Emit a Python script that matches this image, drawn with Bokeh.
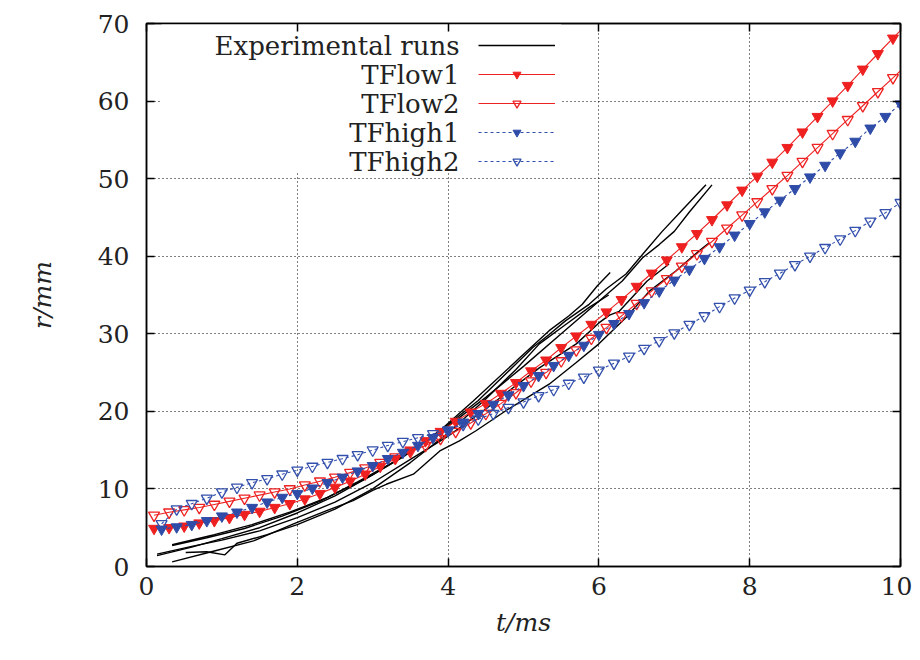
from bokeh.plotting import figure
from bokeh.models import Range1d, FixedTicker, LinearAxis, Legend, LegendItem, Label, BoxAnnotation
from bokeh.embed import file_html
from bokeh.resources import INLINE

# ---------------- data ----------------
x_ticks = [0, 2, 4, 6, 8, 10]
y_ticks = [0, 10, 20, 30, 40, 50, 60, 70]

# model time samples
t_low = [0.1, 0.3, 0.5, 0.7, 0.9, 1.1, 1.3, 1.5, 1.7, 1.9, 2.1, 2.3, 2.5, 2.7, 2.9,
         3.1, 3.3, 3.5, 3.7, 3.9, 4.1, 4.3, 4.5, 4.7, 4.9, 5.1, 5.3, 5.5, 5.7, 5.9,
         6.1, 6.3, 6.5, 6.7, 6.9, 7.1, 7.3, 7.5, 7.7, 7.9, 8.1, 8.3, 8.5, 8.7, 8.9,
         9.1, 9.3, 9.5, 9.7, 9.9, 10.1]
tflow1 = [4.9, 5.0, 5.2, 5.6, 5.9, 6.3, 6.7, 7.1, 7.6, 8.1, 8.7, 9.4, 10.2, 11.0, 11.9,
          12.9, 13.9, 15.0, 16.2, 17.4, 18.7, 19.9, 21.0, 22.3, 23.7, 25.2, 26.6, 28.2, 29.7, 31.2,
          32.8, 34.4, 36.1, 37.8, 39.5, 41.2, 42.9, 44.7, 46.6, 48.5, 50.3, 52.1, 54.0, 56.0, 58.0,
          60.0, 62.0, 64.1, 66.1, 68.1, 70.1]
tflow2 = [6.6, 7.0, 7.3, 7.6, 8.0, 8.4, 8.8, 9.2, 9.6, 10.0, 10.5, 11.0, 11.5, 12.1, 12.7,
          13.4, 14.1, 14.8, 15.6, 16.5, 17.4, 18.5, 19.7, 21.0, 22.4, 23.9, 25.0, 26.5, 27.9, 29.4,
          30.8, 32.3, 33.9, 35.5, 37.1, 38.7, 40.3, 41.9, 43.6, 45.3, 47.0, 48.7, 50.4, 52.2, 54.0,
          55.8, 57.6, 59.4, 61.2, 63.0, 64.8]

t_high = [0.2, 0.4, 0.6, 0.8, 1.0, 1.2, 1.4, 1.6, 1.8, 2.0, 2.2, 2.4, 2.6, 2.8, 3.0,
          3.2, 3.4, 3.6, 3.8, 4.0, 4.2, 4.4, 4.6, 4.8, 5.0, 5.2, 5.4, 5.6, 5.8, 6.0,
          6.2, 6.4, 6.6, 6.8, 7.0, 7.2, 7.4, 7.6, 7.8, 8.0, 8.2, 8.4, 8.6, 8.8, 9.0,
          9.2, 9.4, 9.6, 9.8, 10.0]
tfhigh1 = [4.8, 5.1, 5.4, 5.9, 6.5, 7.0, 7.6, 8.3, 8.9, 9.4, 10.1, 10.8, 11.5, 12.3, 13.0,
           13.9, 14.7, 15.6, 16.6, 17.5, 18.6, 19.7, 20.9, 22.1, 23.3, 24.6, 25.9, 27.2, 28.5, 29.9,
           31.3, 32.6, 34.0, 35.5, 36.9, 38.3, 39.7, 41.2, 42.7, 44.2, 45.7, 47.2, 48.7, 50.2, 51.7,
           53.3, 54.8, 56.5, 58.0, 59.6]
tfhigh2 = [5.5, 7.4, 8.1, 8.8, 9.6, 10.2, 10.8, 11.3, 11.9, 12.4, 12.9, 13.4, 13.9, 14.4, 15.0,
           15.6, 16.1, 16.6, 17.1, 17.6, 18.3, 19.0, 19.7, 20.5, 21.2, 22.0, 22.8, 23.6, 24.4, 25.3,
           26.2, 27.1, 28.1, 29.1, 30.1, 31.2, 32.3, 33.5, 34.6, 35.6, 36.7, 37.8, 38.9, 40.0, 41.1,
           42.2, 43.3, 44.5, 45.6, 46.9]

# experimental runs
run1_t = [0.34, 0.8, 1.3, 1.8, 2.3, 2.8, 3.3, 3.7, 4.0, 4.4, 4.9, 5.12, 5.34, 5.56, 5.87, 6.1, 6.36, 6.62, 6.84, 7.09, 7.42]
run1_r = [2.7, 3.7, 4.9, 6.5, 8.4, 10.9, 13.6, 16.1, 18.3, 21.4, 26.1, 28.2, 29.9, 31.7, 33.8, 35.8, 37.7, 40.7, 43.2, 45.8, 49.2]
run2_t = [0.14, 0.6, 1.0, 1.5, 2.0, 2.5, 3.0, 3.5, 4.0, 4.5, 5.0, 5.5, 6.0, 6.31, 6.58, 6.8, 7.0, 7.2, 7.5]
run2_r = [1.4, 2.5, 3.6, 5.0, 6.9, 9.1, 11.8, 14.8, 18.1, 21.8, 25.8, 30.0, 34.2, 36.8, 39.8, 41.5, 43.2, 45.7, 49.2]
run3_t = [0.34, 0.9, 1.4, 1.9, 2.4, 2.9, 3.4, 3.9, 4.33, 4.95, 5.34, 5.6, 5.78, 5.98, 6.15]
run3_r = [2.8, 4.1, 5.4, 7.0, 8.9, 11.3, 14.1, 17.6, 21.3, 26.9, 30.4, 32.3, 33.8, 36.2, 37.9]
run4_t = [0.52, 0.8, 1.04, 1.2, 1.6, 2.0, 2.5, 3.0, 3.5, 4.0, 4.5, 4.9, 5.21, 5.56, 5.87, 6.13]
run4_r = [1.8, 1.9, 1.5, 3.0, 4.1, 5.4, 7.4, 10.0, 13.4, 17.2, 21.6, 25.4, 28.7, 31.2, 33.4, 35.0]
run5_t = [0.14, 0.6, 1.0, 1.5, 2.0, 2.5, 3.0, 3.5, 4.0, 4.5, 4.8, 5.21, 5.7, 6.0, 6.14, 6.27, 6.64, 6.93]
run5_r = [1.6, 2.6, 3.4, 4.6, 6.3, 8.3, 10.8, 13.8, 16.8, 20.3, 22.6, 25.6, 28.7, 31.4, 32.4, 32.9, 36.8, 39.0]
run6_t = [0.34, 0.9, 1.42, 1.95, 2.39, 2.74, 3.0, 3.18, 3.54, 3.89, 4.15, 4.37, 4.8, 5.34, 5.7, 6.0, 6.36, 6.67, 7.02, 7.33, 7.46]
run6_r = [0.6, 2.0, 3.3, 5.5, 7.2, 8.5, 9.8, 10.6, 11.9, 14.9, 16.2, 17.5, 20.3, 23.5, 26.3, 28.7, 32.1, 35.5, 38.1, 40.7, 41.7]

legend_labels = ["Experimental runs", "TFlow1", "TFlow2", "TFhigh1", "TFhigh2"]

# ---------------- styling ----------------
FONT = "DejaVu Serif"
RED1 = "#ee2020"
RED2 = "#ef2222"
BLUE1 = "#2f4ca8"
BLUE2 = "#3350ac"

p = figure(width=912, height=652, output_backend="svg", toolbar_location=None,
           x_range=Range1d(0, 10), y_range=Range1d(0, 70),
           min_border_left=146, min_border_right=12, min_border_top=23, min_border_bottom=86,
           x_axis_label="t/ms", y_axis_label="r/mm")
p.background_fill_color = "white"
p.border_fill_color = "white"
p.outline_line_color = "black"
p.outline_line_width = 1.5

for ax in (p.xaxis[0], p.yaxis[0]):
    ax.major_tick_in = 8
    ax.major_tick_out = 0
    ax.minor_tick_in = 0
    ax.minor_tick_out = 0
    ax.axis_line_width = 1.5
    ax.major_tick_line_width = 1.5
    ax.major_label_text_font = FONT
    ax.major_label_text_font_size = "25px"
    ax.major_label_text_color = "#222222"
    ax.axis_label_text_font = FONT
    ax.axis_label_text_font_size = "25px"
    ax.axis_label_text_font_style = "italic"
    ax.axis_label_text_color = "#222222"
p.xaxis[0].ticker = FixedTicker(ticks=x_ticks)
p.yaxis[0].ticker = FixedTicker(ticks=y_ticks)
p.xaxis[0].major_label_standoff = 10
p.xaxis[0].axis_label_standoff = 10
p.yaxis[0].major_label_standoff = 17
p.yaxis[0].axis_label_standoff = 38

top_ax = LinearAxis(ticker=FixedTicker(ticks=x_ticks),
                    major_label_overrides={v: "" for v in x_ticks})
right_ax = LinearAxis(ticker=FixedTicker(ticks=y_ticks),
                      major_label_overrides={v: "" for v in y_ticks})
for ax in (top_ax, right_ax):
    ax.major_tick_in = 8
    ax.major_tick_out = 0
    ax.minor_tick_in = 0
    ax.minor_tick_out = 0
    ax.axis_line_width = 1.5
    ax.major_tick_line_width = 1.5
    ax.major_label_text_font_size = "1px"
    ax.major_label_standoff = 0
p.add_layout(top_ax, "above")
p.add_layout(right_ax, "right")

p.xgrid.ticker = FixedTicker(ticks=x_ticks)
p.ygrid.ticker = FixedTicker(ticks=y_ticks)
for g in (p.xgrid, p.ygrid):
    g.grid_line_color = "black"
    g.grid_line_dash = "1 3"
    g.grid_line_width = 1

# opaque key area (hides the grid behind the legend, as in the reference)
p.add_layout(BoxAnnotation(left=0.2, right=5.5, bottom=50.8, top=70,
                           fill_color="white", fill_alpha=1.0, line_color=None,
                           level="underlay"))

# ---------------- glyphs ----------------
exp_runs = []
for tt, rr in [(run1_t, run1_r), (run2_t, run2_r), (run3_t, run3_r),
               (run4_t, run4_r), (run5_t, run5_r), (run6_t, run6_r)]:
    exp_runs.append(p.line(tt, rr, line_color="black", line_width=1.4))

l1 = p.line(t_low, tflow1, line_color=RED1, line_width=1.1)
s1 = p.scatter(t_low, tflow1, marker="inverted_triangle", size=11,
               fill_color=RED1, line_color=RED1)
l2 = p.line(t_low, tflow2, line_color=RED2, line_width=1.1)
s2 = p.scatter(t_low, tflow2, marker="inverted_triangle", size=11,
               fill_color=None, line_color=RED2, line_width=1.3)
l3 = p.line(t_high, tfhigh1, line_color=BLUE1, line_width=1.1, line_dash="3 3")
s3 = p.scatter(t_high, tfhigh1, marker="inverted_triangle", size=11,
               fill_color=BLUE1, line_color=BLUE1)
l4 = p.line(t_high, tfhigh2, line_color=BLUE2, line_width=1.1, line_dash="3 3")
s4 = p.scatter(t_high, tfhigh2, marker="inverted_triangle", size=11,
               fill_color=None, line_color=BLUE2, line_width=1.3)

# ---------------- legend (gnuplot style: text left, sample right) ----------------
key_renderers = [[exp_runs[0]], [l1, s1], [l2, s2], [l3, s3], [l4, s4]]
ROW_PITCH = 29
for i, rends in enumerate(key_renderers):
    lg = Legend(items=[LegendItem(label=" ", renderers=rends)],
                location=(332, 395 + (4 - i) * ROW_PITCH), padding=0, margin=0,
                glyph_width=77, glyph_height=20, label_height=20, label_width=1,
                label_standoff=0, border_line_color=None, background_fill_alpha=0,
                label_text_font_size="1px")
    p.add_layout(lg)

for i, txt in enumerate(legend_labels):
    p.add_layout(Label(x=313, y=405 + (4 - i) * ROW_PITCH, x_units="screen", y_units="screen",
                       text=txt, text_align="right", text_baseline="middle",
                       text_font=FONT, text_font_size="26px", text_color="#222222"))

open("out.html", "w").write(file_html(p, INLINE))
